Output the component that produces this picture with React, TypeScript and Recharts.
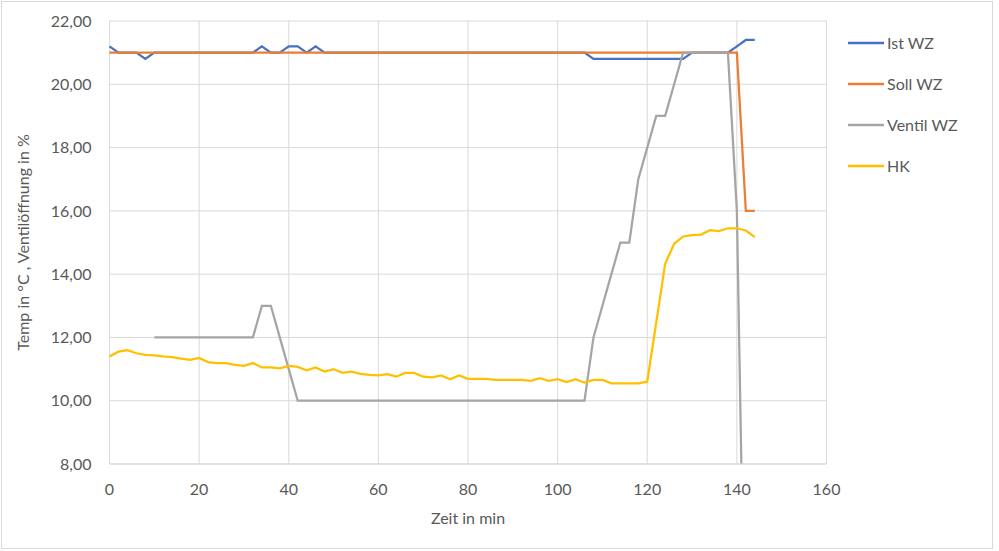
import React from "react"
import { LineChart, Line, XAxis, YAxis, CartesianGrid, Legend } from "recharts"

// Zeit in min, alle 2 Minuten
const minutes = [
  0, 2, 4, 6, 8, 10, 12, 14, 16, 18, 20, 22, 24, 26, 28, 30, 32, 34, 36, 38,
  40, 42, 44, 46, 48, 50, 52, 54, 56, 58, 60, 62, 64, 66, 68, 70, 72, 74, 76, 78,
  80, 82, 84, 86, 88, 90, 92, 94, 96, 98, 100, 102, 104, 106, 108, 110, 112, 114, 116, 118,
  120, 122, 124, 126, 128, 130, 132, 134, 136, 138, 140, 142, 144,
]

const istWZ = [
  21.2, 21, 21, 21, 20.8, 21, 21, 21, 21, 21, 21, 21, 21, 21, 21, 21, 21, 21.2, 21, 21,
  21.2, 21.2, 21, 21.2, 21, 21, 21, 21, 21, 21, 21, 21, 21, 21, 21, 21, 21, 21, 21, 21,
  21, 21, 21, 21, 21, 21, 21, 21, 21, 21, 21, 21, 21, 21, 20.8, 20.8, 20.8, 20.8, 20.8, 20.8,
  20.8, 20.8, 20.8, 20.8, 20.8, 21, 21, 21, 21, 21, 21.2, 21.4, 21.4,
]

const sollWZ = [
  21, 21, 21, 21, 21, 21, 21, 21, 21, 21, 21, 21, 21, 21, 21, 21, 21, 21, 21, 21,
  21, 21, 21, 21, 21, 21, 21, 21, 21, 21, 21, 21, 21, 21, 21, 21, 21, 21, 21, 21,
  21, 21, 21, 21, 21, 21, 21, 21, 21, 21, 21, 21, 21, 21, 21, 21, 21, 21, 21, 21,
  21, 21, 21, 21, 21, 21, 21, 21, 21, 21, 21, 16, 16,
]

const ventilWZ = [
  null, null, null, null, null, 12, 12, 12, 12, 12, 12, 12, 12, 12, 12, 12, 12, 13, 13, 12,
  11, 10, 10, 10, 10, 10, 10, 10, 10, 10, 10, 10, 10, 10, 10, 10, 10, 10, 10, 10,
  10, 10, 10, 10, 10, 10, 10, 10, 10, 10, 10, 10, 10, 10, 12, 13, 14, 15, 15, 17,
  18, 19, 19, 20, 21, 21, 21, 21, 21, 21, 16, 0, 0,
]

const hk = [
  11.4, 11.55, 11.6, 11.5, 11.45, 11.43, 11.4, 11.38, 11.33, 11.29, 11.35, 11.22, 11.19, 11.19, 11.13, 11.1, 11.19, 11.05, 11.05, 11.02,
  11.1, 11.07, 10.96, 11.05, 10.92, 11.0, 10.88, 10.92, 10.85, 10.82, 10.8, 10.84, 10.76, 10.88, 10.88, 10.76, 10.74, 10.8, 10.68, 10.8,
  10.69, 10.69, 10.69, 10.66, 10.66, 10.66, 10.66, 10.63, 10.71, 10.63, 10.68, 10.59, 10.68, 10.57, 10.66, 10.66, 10.55, 10.55, 10.55, 10.55,
  10.6, 12.47, 14.33, 14.96, 15.19, 15.23, 15.25, 15.39, 15.36, 15.45, 15.45, 15.38, 15.17,
]

const xTicks = [0, 20, 40, 60, 80, 100, 120, 140, 160]
const yTicks = [8, 10, 12, 14, 16, 18, 20, 22]

const series = [
  { key: "ist", name: "Ist WZ", color: "#4472C4" },
  { key: "soll", name: "Soll WZ", color: "#ED7D31" },
  { key: "ventil", name: "Ventil WZ", color: "#A5A5A5" },
  { key: "hk", name: "HK", color: "#FFC000" },
]

const data = minutes.map((m, i) => ({
  t: m,
  ist: istWZ[i],
  soll: sollWZ[i],
  ventil: ventilWZ[i],
  hk: hk[i],
}))

const FONT = "Lato, 'Open Sans', sans-serif"
const TEXT = "#595959"

const fmt = (v: number) => v.toFixed(2).replace(".", ",")

function YTitle(props: any) {
  const { viewBox } = props
  const x = viewBox.x + 22
  const y = viewBox.y + viewBox.height / 2
  return (
    <text
      x={x}
      y={y}
      transform={`rotate(-90, ${x}, ${y})`}
      textAnchor="middle"
      dominantBaseline="central"
      fill={TEXT}
      fontSize={16}
      fontFamily={FONT}
    >
      Temp in °C , Ventilöffnung in %
    </text>
  )
}

function XTitle(props: any) {
  const { viewBox } = props
  const x = viewBox.x + viewBox.width / 2
  const y = viewBox.y + 53
  return (
    <text x={x} y={y} textAnchor="middle" dominantBaseline="central" fill={TEXT} fontSize={16} fontFamily={FONT}>
      Zeit in min
    </text>
  )
}

function LegendBox() {
  return (
    <div style={{ fontFamily: FONT, fontSize: 16, color: TEXT }}>
      {series.map((s) => (
        <div key={s.key} style={{ display: "flex", alignItems: "center", height: 41 }}>
          <svg width={39} height={4} style={{ display: "block" }}>
            <line x1={0} y1={2} x2={36} y2={2} stroke={s.color} strokeWidth={2.5} />
          </svg>
          <span>{s.name}</span>
        </div>
      ))}
    </div>
  )
}

export default function App() {
  return (
    <div style={{ position: "absolute", left: 0, top: 0, width: 999, height: 551, background: "#fff" }}>
      <div
        style={{
          position: "absolute",
          left: 1,
          top: 1,
          width: 992,
          height: 548,
          border: "1px solid #D9D9D9",
          boxSizing: "border-box",
        }}
      />
      <LineChart
        width={999}
        height={551}
        data={data}
        margin={{ top: 21, right: 172.5, left: 0, bottom: 0 }}
        style={{ position: "absolute", left: 0, top: 0 }}
      >
        <CartesianGrid stroke="#D9D9D9" strokeWidth={1} />
        <XAxis
          dataKey="t"
          type="number"
          domain={[0, 160]}
          ticks={xTicks}
          height={87}
          tickSize={0}
          tickMargin={20}
          axisLine={{ stroke: "#D9D9D9" }}
          tickLine={false}
          tick={{ fill: TEXT, fontSize: 16, fontFamily: FONT }}
          label={<XTitle />}
        />
        <YAxis
          type="number"
          domain={[8, 22]}
          ticks={yTicks}
          allowDataOverflow
          width={109.5}
          tickSize={0}
          tickMargin={18}
          axisLine={false}
          tickLine={false}
          tickFormatter={fmt}
          tick={{ fill: TEXT, fontSize: 16, fontFamily: FONT }}
          label={<YTitle />}
        />
        <Legend
          layout="horizontal"
          align="center"
          verticalAlign="middle"
          content={<LegendBox />}
          wrapperStyle={{ position: "absolute", left: 848, top: 22, width: 140 }}
        />
        {series.map((s) => (
          <Line
            key={s.key}
            dataKey={s.key}
            name={s.name}
            stroke={s.color}
            strokeWidth={2.25}
            dot={false}
            activeDot={false}
            connectNulls={false}
            type="linear"
            isAnimationActive={false}
          />
        ))}
      </LineChart>
    </div>
  )
}
